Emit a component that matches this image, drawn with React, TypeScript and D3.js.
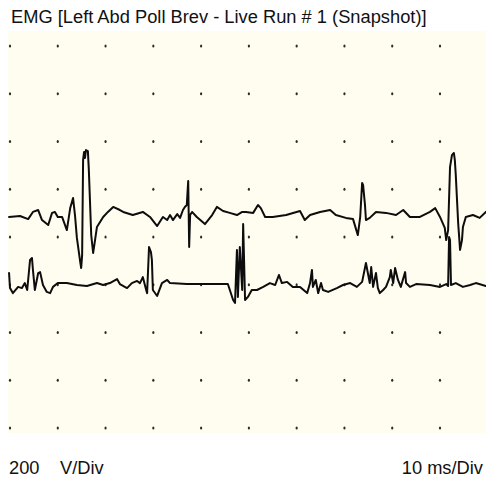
import React from "react";
import * as d3 from "d3";

const titleText = "EMG [Left Abd Poll Brev - Live Run # 1 (Snapshot)]";
const sensitivityValue = "200";
const sensitivityUnit = "V/Div";
const sweepLabel = "10 ms/Div";

// grid divisions (ms and µV)
const timeTicks = [0, 10, 20, 30, 40, 50, 60, 70, 80, 90];
const ampTicks = [-800, -600, -400, -200, 0, 200, 400, 600, 800];

// trace 1 (upper)
const trace1Time = [-0.2,2.1,3.8,4.8,5.9,6.7,8.0,8.8,9.4,10.0,10.9,11.9,12.6,13.2,13.6,14.0,14.7,14.9,15.1,15.3,15.5,15.7,15.9,16.3,16.5,17.0,17.4,17.8,18.2,19.5,20.5,21.6,23.0,23.7,25.7,27.8,29.3,30.8,32.0,32.9,33.5,34.1,35.0,35.6,36.2,36.6,37.0,37.3,37.5,37.7,38.1,39.1,40.8,42.3,43.3,44.6,46.0,47.5,48.6,49.4,50.9,51.9,52.5,53.4,55.0,57.8,60.7,61.7,62.8,64.9,67.0,68.2,70.3,71.8,72.8,73.3,73.7,73.9,74.3,74.5,75.3,76.6,78.7,80.8,82.3,83.7,85.8,87.9,89.0,90.0,91.0,91.3,91.7,92.1,92.5,92.9,93.1,93.3,93.8,94.2,94.6,94.8,95.4,96.9,98.3,99.6];
const trace1Value = [84,88,75,105,113,71,50,101,105,84,84,29,121,163,92,-4,-105,-130,-75,323,356,331,364,360,281,8,-67,-13,42,84,105,126,113,105,92,105,84,46,84,71,92,71,96,80,113,126,134,235,-42,92,105,84,54,92,126,109,101,92,105,105,101,134,121,84,84,92,109,71,92,105,113,92,80,75,8,84,226,218,134,71,80,105,101,92,113,84,84,105,121,84,38,-13,29,293,343,352,323,260,59,-54,-13,42,84,92,80,105];

// trace 2 (lower)
const trace2Time = [-0.2,0.0,0.6,1.7,2.5,3.1,3.6,4.2,4.6,4.8,5.2,5.9,6.3,6.9,7.7,8.4,9.0,10.0,11.9,14.0,16.1,18.2,19.5,20.9,22.4,23.0,24.5,25.5,26.6,27.2,27.8,28.5,28.7,29.1,29.5,29.7,29.9,30.8,31.8,32.9,33.5,37.0,41.2,45.6,46.7,47.1,47.5,47.7,48.1,48.6,48.8,49.2,49.8,50.6,51.7,53.0,54.4,55.5,56.3,56.9,58.0,59.2,60.7,62.2,62.8,63.2,63.4,64.0,64.5,65.1,65.5,66.6,68.4,69.7,71.2,72.6,73.7,74.5,74.9,75.3,75.6,76.0,76.6,77.0,77.4,78.1,78.7,79.5,79.7,80.2,80.6,81.2,81.8,82.7,82.9,83.7,85.0,87.9,90.0,91.3,91.7,91.9,92.1,92.3,93.3,94.8,96.3,97.5,99.6];
const trace2Value = [-151,-214,-235,-209,-214,-193,-222,-96,-88,-138,-222,-151,-147,-201,-230,-235,-209,-193,-193,-201,-205,-193,-201,-193,-176,-197,-214,-193,-184,-193,-168,-222,-235,-42,-63,-96,-222,-247,-193,-180,-193,-197,-197,-197,-264,-276,-54,-251,-42,-222,54,-264,-251,-222,-222,-209,-193,-201,-159,-193,-188,-209,-209,-235,-193,-138,-209,-180,-235,-193,-222,-230,-214,-201,-193,-209,-188,-109,-151,-193,-126,-209,-151,-214,-235,-222,-209,-168,-138,-193,-130,-180,-209,-147,-193,-209,-197,-201,-209,-197,-205,0,-13,-201,-193,-209,-201,-193,-205];

const W = 486;
const H = 481;
const FONT = "'Liberation Sans', Arial, Helvetica, sans-serif";
const FS = 18.3;

export default function App() {
  const x = d3.scaleLinear().domain([0, 90]).range([10, 440]);
  const y = d3.scaleLinear().domain([-800, 800]).range([428, 46]);

  const line = d3
    .line<[number, number]>()
    .x((d) => x(d[0]))
    .y((d) => y(d[1]))
    .curve(d3.curveLinear);

  const t1 = trace1Time.map((t, i) => [t, trace1Value[i]] as [number, number]);
  const t2 = trace2Time.map((t, i) => [t, trace2Value[i]] as [number, number]);

  const panelTop = 31;
  const panelBottom = 433;
  const panelLeft = 8;

  return (
    <svg
      width={W}
      height={H}
      style={{ position: "absolute", left: 0, top: 0, background: "#ffffff" }}
    >
      <text x={11} y={23} fontFamily={FONT} fontSize={FS} fill="#111">
        {titleText}
      </text>
      <rect
        x={panelLeft}
        y={panelTop}
        width={W - panelLeft}
        height={panelBottom - panelTop}
        fill="#fffdf0"
      />
      <g>
        {ampTicks.map((a) =>
          timeTicks.map((t) => (
            <ellipse
              key={`${a}-${t}`}
              cx={x(t)}
              cy={y(a)}
              rx={1.1}
              ry={1.5}
              fill="#2a2a2a"
            />
          ))
        )}
      </g>
      <path
        d={line(t1) || ""}
        fill="none"
        stroke="#0d0d0d"
        strokeWidth={2}
        strokeLinejoin="round"
        strokeLinecap="round"
      />
      <path
        d={line(t2) || ""}
        fill="none"
        stroke="#0d0d0d"
        strokeWidth={2}
        strokeLinejoin="round"
        strokeLinecap="round"
      />
      <text x={9} y={474} fontFamily={FONT} fontSize={FS} fill="#111">
        {sensitivityValue}
      </text>
      <text x={60} y={474} fontFamily={FONT} fontSize={FS} fill="#111">
        {sensitivityUnit}
      </text>
      <text
        x={483}
        y={474}
        textAnchor="end"
        fontFamily={FONT}
        fontSize={FS}
        fill="#111"
      >
        {sweepLabel}
      </text>
    </svg>
  );
}
